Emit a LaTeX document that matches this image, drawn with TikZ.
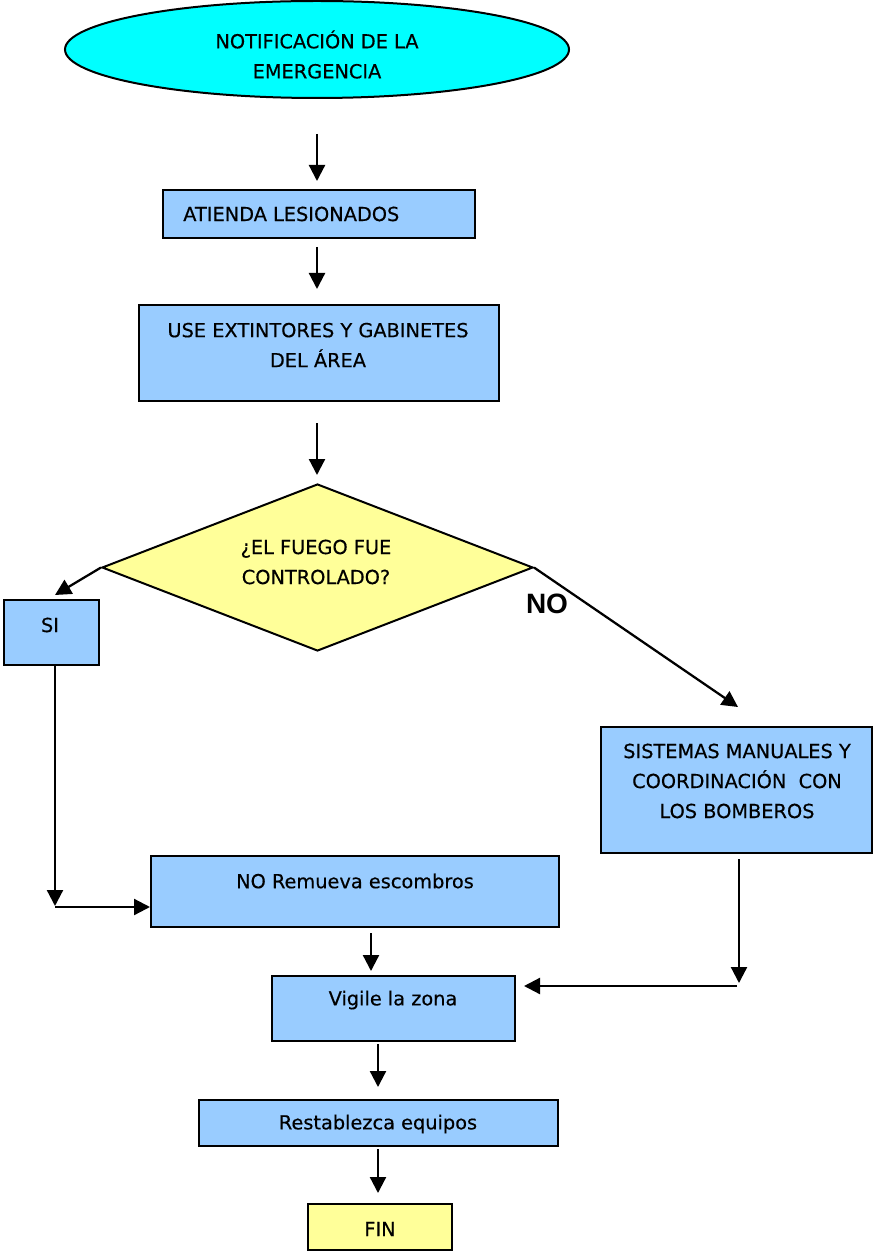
\documentclass[tikz,border=0pt]{standalone}
\usepackage{fontspec}
\setmainfont{DejaVu Sans}[FakeBold=0.4]
\newfontfamily\nofont{Liberation Sans}
\usetikzlibrary{shapes.geometric,arrows.meta,calc}
\newlength\upx
\setlength\upx{0.75pt}
\definecolor{boxblue}{HTML}{99CCFF}
\definecolor{paleyellow}{HTML}{FFFF99}
\definecolor{cyanfill}{HTML}{00FFFF}
\begin{document}
\begin{tikzpicture}[x=0.75pt,y=-0.75pt,
  box/.style={draw, line width=1.5pt, fill=boxblue, rectangle, inner sep=0pt},
  lbl/.style={font=\fontsize{14.5}{22.5}\selectfont, align=center, inner sep=0pt},
  arr/.style={line width=1.7pt, -{Triangle[length=12pt,width=12pt]}}]
\useasboundingbox (0,0) rectangle (874,1251);

% shapes
\node[ellipse, draw, line width=1.5pt, fill=cyanfill, inner sep=0pt,
      minimum width=504\upx, minimum height=97\upx] (ell) at (317,49.5) {};
\node[lbl] (ellt) at (317,54.5) {NOTIFICACIÓN DE LA\\EMERGENCIA};

\node[box, minimum width=312\upx, minimum height=48\upx] (b1) at (319,214) {};
\node[lbl, anchor=west] (b1t) at (183,214) {ATIENDA LESIONADOS};

\node[box, minimum width=360\upx, minimum height=96\upx] (b2) at (319,353) {};
\node[lbl] (b2t) at (318,345) {USE EXTINTORES Y GABINETES\\DEL ÁREA};

\node[diamond, draw, line width=1.5pt, fill=paleyellow, inner sep=0pt,
      minimum width=431\upx, minimum height=167\upx] (q) at (317.5,567.5) {};
\node[lbl] (qt) at (316,562) {¿EL FUEGO FUE\\CONTROLADO?};

\node[box, minimum width=95\upx, minimum height=65\upx] (si) at (51.5,632.5) {};
\node[lbl] (sit) at (50,625) {SI};

\node[box, minimum width=271\upx, minimum height=126\upx] (b6) at (736.5,790) {};
\node[lbl] (b6t) at (737,781) {SISTEMAS MANUALES Y\\COORDINACIÓN\ \ CON\\LOS BOMBEROS};

\node[box, minimum width=408\upx, minimum height=71\upx] (b3) at (355,891.5) {};
\node[lbl] (b3t) at (355,881) {NO Remueva escombros};

\node[box, minimum width=243\upx, minimum height=65\upx] (b4) at (393.5,1008.5) {};
\node[lbl] (b4t) at (393,1000) {Vigile la zona};

\node[box, minimum width=359\upx, minimum height=46\upx] (b5) at (378.5,1123) {};
\node[lbl] (b5t) at (378,1124) {Restablezca equipos};

\node[box, fill=paleyellow, minimum width=144\upx, minimum height=46\upx] (fin) at (380,1227) {};
\node[lbl] (fint) at (380,1229) {FIN};

\node[font=\nofont\bfseries\fontsize{21}{24}\selectfont, inner sep=0pt] (nolbl) at (547,604) {NO};

% helper coordinates
\coordinate (xa) at (317,0);
\coordinate (xb) at (371,0);
\coordinate (xc) at (378,0);
\coordinate (siTip) at (55,595);
\coordinate (c1) at (55,907);
\coordinate (noTip) at (738,707);
\coordinate (xd) at (739,0);
\coordinate (c2) at (739,983);
\coordinate (c3) at (737,986);

% connectors
\draw[arr, shorten <=26.25pt, shorten >=6pt] (ell.south -| xa) -- (b1.north -| xa);
\draw[arr, shorten <=6pt, shorten >=11.25pt] (b1.south -| xa) -- (b2.north -| xa);
\draw[arr, shorten <=15.75pt, shorten >=6pt] (b2.south -| xa) -- (q.north -| xa);
\draw[arr] (q.west) -- (siTip);
\draw[arr] (si.south -| c1) -- ($(c1)+(0,-1)$);
\draw[arr] (c1) -- (c1 -| b3.west);
\draw[arr] (q.east) -- (noTip);
\draw[arr, shorten <=3.75pt, shorten >=3pt] (b3.south -| xb) -- (b4.north -| xb);
\draw[arr, shorten <=3.75pt] (b6.south -| xd) -- (c2);
\draw[arr, shorten >=6pt] (c3) -- (c3 -| b4.east);
\draw[arr, shorten <=1.5pt, shorten >=9pt] (b4.south -| xc) -- (b5.north -| xc);
\draw[arr, shorten <=1.5pt, shorten >=7.5pt] (b5.south -| xc) -- (fin.north -| xc);
\end{tikzpicture}
\end{document}
